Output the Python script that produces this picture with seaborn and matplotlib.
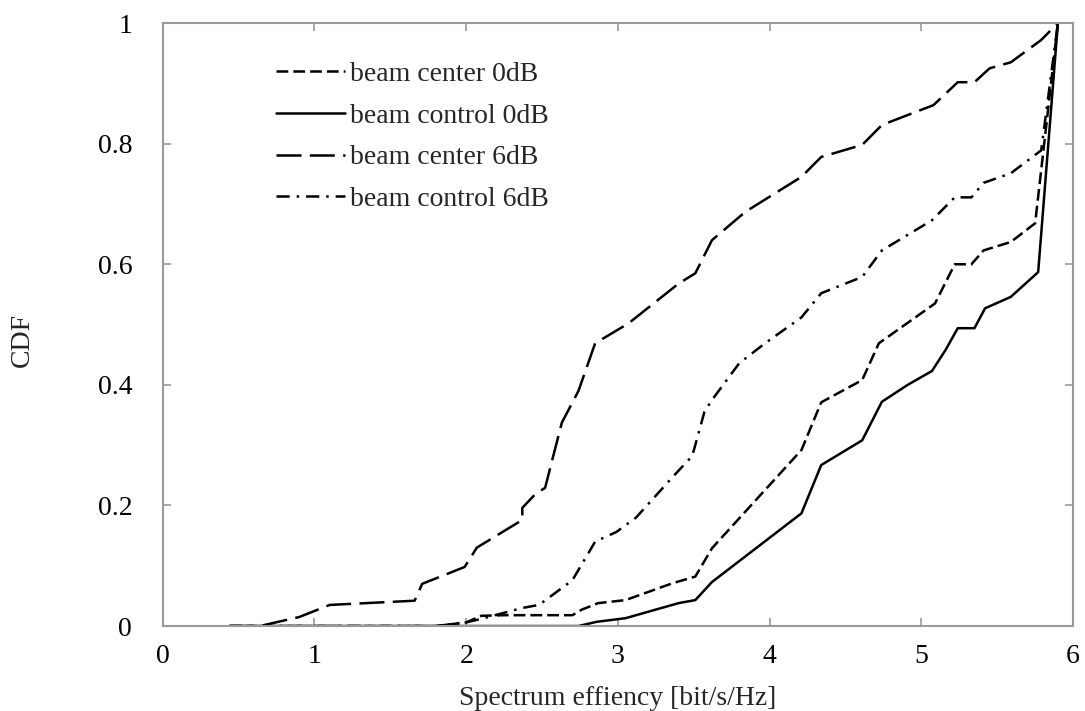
import numpy as np
import pandas as pd
import matplotlib
matplotlib.use("Agg")
import matplotlib.pyplot as plt
import seaborn as sns

# ---- data ----
series_names = ["beam center 0dB", "beam control 0dB", "beam center 6dB", "beam control 6dB"]

center0_x = [0.44, 1.80, 2.00, 2.10, 2.26, 2.70, 2.76, 2.87, 3.05, 3.36, 3.51, 3.62, 4.21, 4.34, 4.61, 4.72, 5.09, 5.22, 5.33, 5.41, 5.59, 5.75, 5.90]
center0_y = [0.0, 0.0, 0.006, 0.017, 0.018, 0.018, 0.027, 0.038, 0.043, 0.071, 0.082, 0.129, 0.292, 0.371, 0.408, 0.469, 0.535, 0.600, 0.600, 0.623, 0.637, 0.668, 1.0]

control0_x = [0.44, 2.74, 2.86, 3.05, 3.40, 3.51, 3.62, 4.21, 4.34, 4.61, 4.74, 4.91, 5.07, 5.16, 5.24, 5.35, 5.42, 5.59, 5.77, 5.90]
control0_y = [0.0, 0.0, 0.007, 0.013, 0.038, 0.043, 0.073, 0.187, 0.267, 0.308, 0.372, 0.400, 0.423, 0.458, 0.494, 0.494, 0.527, 0.546, 0.587, 1.0]

center6_x = [0.44, 0.64, 0.90, 1.10, 1.66, 1.71, 1.99, 2.07, 2.37, 2.37, 2.46, 2.52, 2.63, 2.74, 2.85, 3.07, 3.40, 3.51, 3.62, 3.84, 4.21, 4.34, 4.61, 4.74, 5.08, 5.24, 5.35, 5.45, 5.59, 5.79, 5.90]
center6_y = [0.0, 0.0, 0.015, 0.035, 0.042, 0.070, 0.098, 0.130, 0.176, 0.196, 0.220, 0.229, 0.337, 0.390, 0.469, 0.502, 0.568, 0.585, 0.640, 0.687, 0.745, 0.778, 0.798, 0.831, 0.864, 0.902, 0.902, 0.925, 0.935, 0.972, 1.0]

control6_x = [0.44, 1.80, 2.00, 2.10, 2.37, 2.48, 2.55, 2.70, 2.85, 2.99, 3.12, 3.36, 3.49, 3.57, 3.62, 3.80, 3.97, 4.21, 4.34, 4.61, 4.74, 5.07, 5.22, 5.33, 5.41, 5.59, 5.79, 5.90]
control6_y = [0.0, 0.0, 0.006, 0.012, 0.030, 0.035, 0.048, 0.076, 0.140, 0.156, 0.180, 0.247, 0.282, 0.355, 0.375, 0.436, 0.469, 0.512, 0.552, 0.579, 0.623, 0.673, 0.711, 0.711, 0.735, 0.751, 0.789, 1.0]

x_ticks = [0, 1, 2, 3, 4, 5, 6]
y_ticks = [0, 0.2, 0.4, 0.6, 0.8, 1]
y_tick_labels = ["0", "0.2", "0.4", "0.6", "0.8", "1"]

# ---- build long-form table ----
frames = []
for name, xs, ys in zip(series_names,
                        [center0_x, control0_x, center6_x, control6_x],
                        [center0_y, control0_y, center6_y, control6_y]):
    frames.append(pd.DataFrame({"x": xs, "y": ys, "series": name, "order": np.arange(len(xs))}))
df = pd.concat(frames, ignore_index=True)

sns.set_style("white")
plt.rcParams["font.family"] = ["Liberation Serif", "DejaVu Serif"]
plt.rcParams["lines.scale_dashes"] = False

FS = 20

fig = plt.figure(figsize=(10.85, 7.11), dpi=100)
ax = fig.add_axes([0.150, 0.1195, 0.839, 0.848])

dashes = {
    "beam center 0dB": (8.5, 3.6),
    "beam control 0dB": "",
    "beam center 6dB": (18, 6),
    "beam control 6dB": (9.5, 5, 1.8, 5),
}
sns.lineplot(data=df, x="x", y="y", hue="series", style="series",
             palette=["black"] * 4, dashes=dashes, hue_order=series_names,
             style_order=series_names, estimator=None, sort=False,
             linewidth=1.8, ax=ax, legend=True)

ax.set_xlim(0, 6)
ax.set_ylim(0, 1)
ax.set_xticks(x_ticks)
ax.set_xticklabels([str(t) for t in x_ticks])
ax.set_yticks(y_ticks)
ax.set_yticklabels(y_tick_labels)

grey = "#9a9a9a"
for s in ax.spines.values():
    s.set_color(grey)
    s.set_linewidth(1.5)
    s.set_visible(True)
ax.tick_params(axis="both", which="major", direction="in", length=6, width=1.2,
               color=grey, labelsize=FS, labelcolor="black",
               top=True, right=True, bottom=True, left=True)
ax.tick_params(axis="x", pad=13)
ax.tick_params(axis="y", pad=22)

ax.set_xlabel("Spectrum effiency [bit/s/Hz]", fontsize=FS)
ax.set_ylabel("CDF", fontsize=FS)
ax.xaxis.set_label_coords(0.5, -0.100)
ax.yaxis.set_label_coords(-0.140, 0.474)

leg = ax.legend(loc="upper left", bbox_to_anchor=(0.124, 0.936), frameon=False,
                fontsize=FS, handlelength=2.5, handletextpad=0.18,
                labelspacing=0.58, borderpad=0, borderaxespad=0)
for line in leg.get_lines():
    line.set_linewidth(1.8)

fig.savefig("out.png", dpi=100)
